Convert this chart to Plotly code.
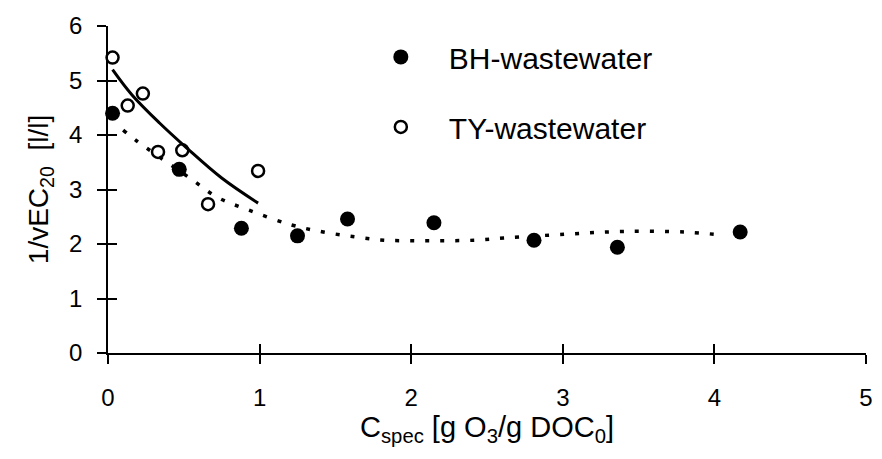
import plotly.graph_objects as go

# BH-wastewater (filled circles)
bh_x = [0.03, 0.47, 0.88, 1.25, 1.58, 2.15, 2.81, 3.36, 4.17]
bh_y = [4.40, 3.37, 2.29, 2.15, 2.46, 2.39, 2.07, 1.94, 2.22]
# TY-wastewater (open circles)
ty_x = [0.03, 0.13, 0.23, 0.33, 0.49, 0.66, 0.99]
ty_y = [5.42, 4.54, 4.76, 3.69, 3.72, 2.73, 3.34]
# solid fit curve (TY)
fit_ty_x = [0.03, 0.16, 0.34, 0.52, 0.75, 0.99]
fit_ty_y = [5.20, 4.73, 4.22, 3.76, 3.21, 2.75]
# dotted fit curve (BH)
fit_bh_x = [0.10, 0.19, 0.54, 0.72, 0.93, 1.21, 1.42, 1.63, 1.82, 2.02, 2.22, 2.42, 2.61, 3.02, 3.40, 3.80, 4.03]
fit_bh_y = [4.09, 3.89, 3.21, 2.86, 2.62, 2.35, 2.22, 2.13, 2.07, 2.06, 2.06, 2.07, 2.11, 2.18, 2.23, 2.22, 2.17]

x_ticks = [0, 1, 2, 3, 4, 5]
y_ticks = [0, 1, 2, 3, 4, 5, 6]
x_range = [0, 5]
y_range = [0, 6]

FONT = "Liberation Sans, Arial, sans-serif"

fig = go.Figure()
fig.add_trace(go.Scatter(x=fit_ty_x, y=fit_ty_y, mode="lines", line=dict(color="black", width=3, shape="spline"),
                         showlegend=False, hoverinfo="skip", cliponaxis=False))
fig.add_trace(go.Scatter(x=fit_bh_x, y=fit_bh_y, mode="lines",
                         line=dict(color="black", width=3.5, shape="spline", dash="4px,11px"),
                         showlegend=False, hoverinfo="skip", cliponaxis=False))
fig.add_trace(go.Scatter(x=bh_x, y=bh_y, mode="markers", name="BH-wastewater", legendgroup="a",
                         marker=dict(symbol="circle", size=15, color="black"), cliponaxis=False))
fig.add_trace(go.Scatter(x=ty_x, y=ty_y, mode="markers", name="TY-wastewater", legendgroup="b",
                         marker=dict(symbol="circle-open", size=12, color="black", line=dict(width=2.5)),
                         cliponaxis=False))
# helper trace for overlay axes (crossing ticks)
fig.add_trace(go.Scatter(x=[None], y=[None], xaxis="x2", yaxis="y2", showlegend=False, hoverinfo="skip"))

common = dict(showgrid=False, zeroline=False, showline=True, linecolor="black", linewidth=1.5,
              tickcolor="black", tickwidth=1.5, ticklen=9)

fig.update_layout(
    width=882, height=459,
    margin=dict(l=108, r=9, t=26, b=106),
    paper_bgcolor="white", plot_bgcolor="white",
    font=dict(family=FONT, color="black", size=24),
    xaxis=dict(range=x_range, tickvals=x_ticks, ticks="outside", ticklabelstandoff=13,
               title=dict(text="C<sub>spec</sub> [g O<sub>3</sub>/g DOC<sub>0</sub>]", font=dict(size=29), standoff=6),
               tickfont=dict(size=24), **common),
    yaxis=dict(range=y_range, tickvals=y_ticks, ticks="outside", ticklabelstandoff=10,
               title=dict(text="1/vEC<sub>20</sub>  [l/l]", font=dict(size=28), standoff=12),
               tickfont=dict(size=24), **common),
    xaxis2=dict(range=x_range, tickvals=x_ticks, ticks="inside", overlaying="x", showticklabels=False,
                anchor="y", side="bottom", **common),
    yaxis2=dict(range=y_range, tickvals=y_ticks, ticks="inside", overlaying="y", showticklabels=False,
                anchor="x", side="left", **common),
    legend=dict(x=0.323, y=0.985, xanchor="left", yanchor="top", bgcolor="rgba(0,0,0,0)",
                font=dict(size=30), tracegroupgap=28, itemwidth=86),
)

fig.write_html("out.html")
